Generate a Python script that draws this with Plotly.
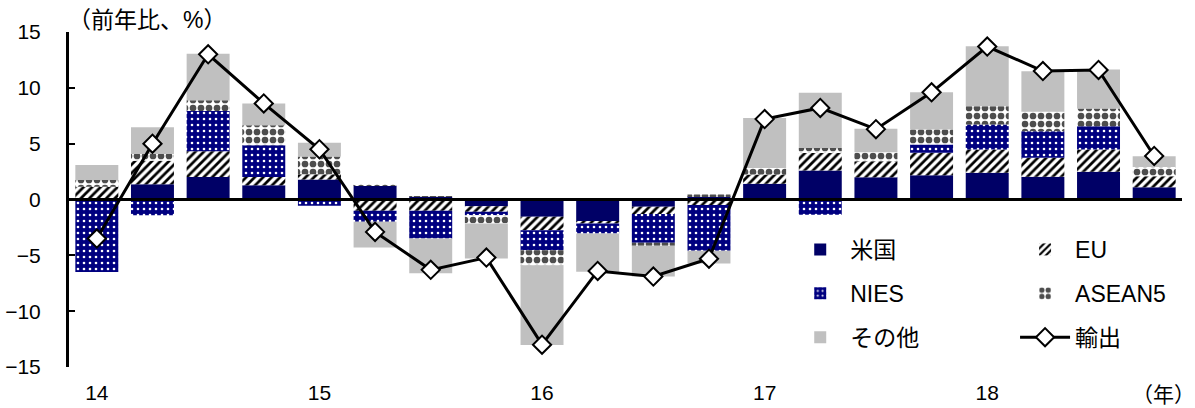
import plotly.graph_objects as go

quarters = ["14Q1", "14Q2", "14Q3", "14Q4", "15Q1", "15Q2", "15Q3", "15Q4",
            "16Q1", "16Q2", "16Q3", "16Q4", "17Q1", "17Q2", "17Q3", "17Q4",
            "18Q1", "18Q2", "18Q3", "18Q4"]
year_ticks = ["14Q1", "15Q1", "16Q1", "17Q1", "18Q1"]
year_labels = ["14", "15", "16", "17", "18"]

us = [0.0, 1.37, 2.02, 1.28, 1.79, 1.28, 0.24, -0.6, -1.55, -2.0,
      -0.65, 0.3, 1.40, 2.6, 2.0, 2.18, 2.39, 2.03, 2.48, 1.1]
eu = [1.15, 2.1, 2.3, 0.74, 0.47, -1.0, -1.0, -0.5, -1.2, -0.15,
      -0.65, -0.5, 0.84, 1.56, 1.4, 2.0, 2.09, 1.7, 2.0, 0.99]
nies = [-6.5, -1.4, 3.6, 2.84, -0.57, -1.0, -2.5, -0.3, -1.79, -0.89,
        -2.57, -4.1, 0.0, -1.37, 0.0, 0.75, 2.24, 2.39, 2.09, 0.0]
asean5 = [0.6, 0.6, 0.96, 1.79, 1.6, 0.1, 0.05, -0.75, -1.34, 0.1,
          -0.27, 0.15, 0.59, 0.45, 0.84, 1.34, 1.64, 1.73, 1.58, 0.81]
others = [1.35, 2.4, 4.18, 1.94, 1.22, -2.3, -3.1, -3.13, -7.16, -3.44,
          -2.76, -1.13, 4.47, 4.95, 2.09, 3.34, 5.37, 3.64, 3.49, 0.98]
exports = [-3.5, 5.0, 13.0, 8.6, 4.5, -2.9, -6.3, -5.2, -13.0, -6.4,
           -6.9, -5.3, 7.2, 8.2, 6.3, 9.6, 13.7, 11.5, 11.6, 3.9]

FONT = "Liberation Sans, Arial, Noto Sans CJK JP, sans-serif"
NAVY = "#000066"

fig = go.Figure()
fig.add_trace(go.Bar(x=quarters, y=us, name="米国", legend="legend", legendgroup="a",
                     marker=dict(color=NAVY, line=dict(width=0))))
fig.add_trace(go.Bar(x=quarters, y=eu, name="EU", legend="legend2", legendgroup="b",
                     marker=dict(color="white", line=dict(width=0),
                                 pattern=dict(shape="/", fgcolor="black", bgcolor="white",
                                              size=6, solidity=0.45, fillmode="replace"))))
fig.add_trace(go.Bar(x=quarters, y=nies, name="NIES", legend="legend", legendgroup="c",
                     marker=dict(color="#000080", line=dict(width=0),
                                 pattern=dict(shape=".", fgcolor="white", bgcolor="#000080",
                                              size=6, solidity=0.15, fillmode="replace"))))
fig.add_trace(go.Bar(x=quarters, y=asean5, name="ASEAN5", legend="legend2", legendgroup="d",
                     marker=dict(color="white", line=dict(width=0),
                                 pattern=dict(shape=".", fgcolor="#4d4d4d", bgcolor="white",
                                              size=8, solidity=0.55, fillmode="replace"))))
fig.add_trace(go.Bar(x=quarters, y=others, name="その他", legend="legend", legendgroup="e",
                     marker=dict(color="#C0C0C0", line=dict(width=0))))
fig.add_trace(go.Scatter(x=quarters, y=exports, name="輸出", legend="legend2", legendgroup="f",
                         mode="lines+markers",
                         line=dict(color="black", width=3),
                         marker=dict(symbol="diamond", size=14, color="white",
                                     line=dict(color="black", width=2))))

fig.add_shape(type="line", xref="paper", x0=0, x1=1, yref="y", y0=0, y1=0,
              line=dict(color="black", width=3), layer="above")

legend_common = dict(font=dict(family=FONT, size=23, color="black"),
                     bgcolor="rgba(0,0,0,0)", tracegroupgap=11, itemwidth=50,
                     yanchor="top", xanchor="left", orientation="v")

fig.update_layout(
    width=1195, height=408,
    margin=dict(l=69, r=13, t=32, b=41),
    paper_bgcolor="white", plot_bgcolor="white",
    barmode="relative", bargap=0.228,
    font=dict(family=FONT, size=21, color="black"),
    showlegend=True,
    legend=dict(x=0.648, y=0.415, **legend_common),
    legend2=dict(x=0.85, y=0.415, **legend_common),
    xaxis=dict(type="category", categoryorder="array", categoryarray=quarters,
               range=[-0.5, len(quarters) - 0.5], automargin=False,
               tickmode="array", tickvals=year_ticks, ticktext=year_labels,
               showline=False, showgrid=False, zeroline=False,
               ticks="outside", ticklen=7, tickcolor="rgba(0,0,0,0)",
               tickfont=dict(family=FONT, size=21, color="black")),
    yaxis=dict(range=[-15, 15], tickmode="array", tickvals=[-15, -10, -5, 0, 5, 10, 15],
               automargin=False,
               showline=True, linecolor="black", linewidth=3,
               ticks="inside", ticklen=6, tickwidth=2, tickcolor="black",
               showgrid=False, zeroline=False, ticklabelstandoff=21,
               tickfont=dict(family=FONT, size=21, color="black")),
)

fig.add_annotation(text="（前年比、%）", xref="paper", yref="paper", x=-0.003, y=1.035,
                   xanchor="left", yanchor="middle", showarrow=False,
                   font=dict(family=FONT, size=23, color="black"))
fig.add_annotation(text="（年）", xref="paper", yref="paper", x=0.983, y=-0.082,
                   xanchor="center", yanchor="middle", showarrow=False,
                   font=dict(family=FONT, size=21, color="black"))

fig.write_html("out.html")
